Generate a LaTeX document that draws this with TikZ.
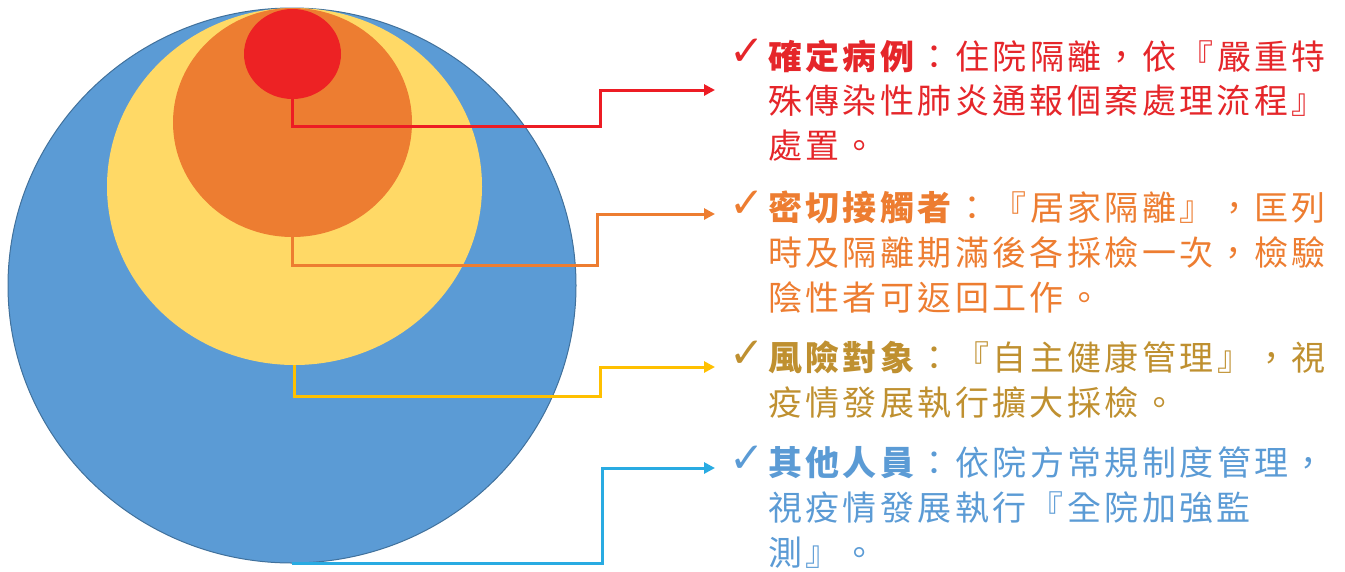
\documentclass[tikz,border=0pt]{standalone}
\usepackage{fontspec}
\usetikzlibrary{shapes.geometric,arrows.meta}
\newfontfamily\cjk[LetterSpace=10,Script=CJK,Language=Chinese Traditional]{Noto Sans CJK TC}
\newfontfamily\symf{DejaVu Sans}
\definecolor{fblue}{HTML}{5B9BD5}
\definecolor{eblue}{HTML}{41719C}
\definecolor{fyellow}{HTML}{FFD966}
\definecolor{forange}{HTML}{ED7D31}
\definecolor{fred}{HTML}{ED2224}
\definecolor{lred}{HTML}{ED1C24}
\definecolor{lorange}{HTML}{ED7D31}
\definecolor{lyellow}{HTML}{FFC000}
\definecolor{lcyan}{HTML}{29ABE2}
\definecolor{tred}{HTML}{E5262A}
\definecolor{torange}{HTML}{ED7D31}
\definecolor{tgold}{HTML}{BF9030}
\definecolor{tblue}{HTML}{5B9BD5}
\begin{document}
\begin{tikzpicture}[x=1pt,y=-1pt,
  blob/.style={ellipse,inner sep=0pt,outer sep=0pt},
  conn/.style={line width=3pt,-{Triangle[length=11pt,width=11pt]}},
  txt/.style={anchor=base west,inner sep=0pt,font=\cjk\fontsize{34}{40}\selectfont},
  chk/.style={anchor=base west,inner sep=0pt,font=\symf\fontsize{42}{42}\selectfont}]
\useasboundingbox (0,0) rectangle (1345,571);
% circles
\node[blob,fill=fblue,draw=eblue,line width=1pt,minimum width=568pt,minimum height=555pt] (bl) at (292,285.5) {};
\node[blob,fill=fyellow,minimum width=375pt,minimum height=357pt] (ye) at (294.5,186.5) {};
\node[blob,fill=forange,minimum width=239pt,minimum height=229pt] (or) at (292.5,122.5) {};
\node[blob,fill=fred,minimum width=97pt,minimum height=90pt] (rd) at (292.5,54) {};
% arrow ends
\coordinate (ar) at (715,90);
\coordinate (ao) at (715,214);
\coordinate (ay) at (715,367);
\coordinate (ab) at (715,468);
% connectors
\draw[conn,lred] (rd.south) |- (600,126) |- (ar);
\draw[conn,lorange] (or.south) |- (597,265) |- (ao);
\draw[conn,lyellow] (ye.south) |- (600,396) |- (ay);
\draw[conn,lcyan] (bl.south) -- (602,563) |- (ab);
% red block
\node[chk,text=tred] (cr) at (729,65) {✓};
\node[txt,text=tred] (r1) at (768,69) {\textbf{確定病例}：住院隔離，依『嚴重特};
\node[txt,text=tred] (r2) at (768,113) {殊傳染性肺炎通報個案處理流程』};
\node[txt,text=tred] (r3) at (768,158) {處置。};
% orange block
\node[chk,text=torange] (co) at (729,217) {✓};
\node[txt,text=torange] (o1) at (768,220) {\textbf{密切接觸者}：『居家隔離』，匡列};
\node[txt,text=torange] (o2) at (768,265) {時及隔離期滿後各採檢一次，檢驗};
\node[txt,text=torange] (o3) at (768,310) {陰性者可返回工作。};
% yellow block
\node[chk,text=tgold] (cy) at (729,367) {✓};
\node[txt,text=tgold] (y1) at (768,370) {\textbf{風險對象}：『自主健康管理』，視};
\node[txt,text=tgold] (y2) at (768,415) {疫情發展執行擴大採檢。};
% blue block
\node[chk,text=tblue] (cb) at (729,472) {✓};
\node[txt,text=tblue] (b1) at (768,475) {\textbf{其他人員}：依院方常規制度管理，};
\node[txt,text=tblue] (b2) at (768,520) {視疫情發展執行『全院加強監};
\node[txt,text=tblue] (b3) at (768,565) {測』。};
\end{tikzpicture}
\end{document}
